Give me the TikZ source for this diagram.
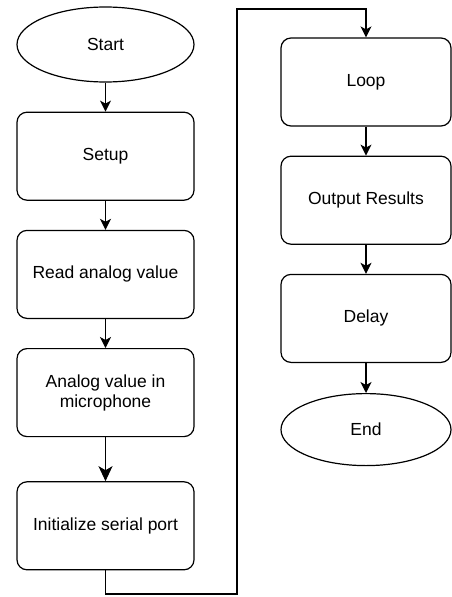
\documentclass[tikz,border=0pt]{standalone}
\usepackage{fontspec}
\setmainfont{Liberation Sans}
\usetikzlibrary{shapes.geometric, arrows.meta, positioning}
\tikzset{
    startstop/.style={
        draw, ellipse, minimum width=177pt, minimum height=75pt, inner sep=0pt, align=center, fill=white, text=black
    },
    process/.style={
        draw, rectangle, rounded corners=10pt, minimum width=177pt, minimum height=88pt, align=center, fill=white, text=black
    },
    arrow/.style={
        line width=1.2pt, -{Stealth[length=11pt, width=11pt, inset=3pt]}
    },
    bigarrow/.style={
        line width=1.2pt, -{Stealth[length=15pt, width=14pt, inset=4pt]}
    },
    every node/.style={font=\fontsize{17.5}{20}\selectfont, line width=1.2pt}
}
\begin{document}
\begin{tikzpicture}[x=1pt, y=1pt, node distance=29pt]
    \useasboundingbox (0,0) rectangle (452,-597);

    % left column
    \node (start) [startstop] at (105.5,-44.5) {Start};
    \node (setup) [process, below=of start] {Setup};
    \node (read) [process, below=of setup] {Read analog value};
    \node (mic) [process, below=of read] {Analog value in\\microphone};
    \node (serial) [process, below=44pt of mic] {Initialize serial port};

    % right column
    \node (loop) [process, minimum width=170pt] at (366,-82) {Loop};
    \node (output) [process, minimum width=170pt, below=of loop] {Output Results};
    \node (delay) [process, minimum width=170pt, below=of output] {Delay};
    \node (stop) [startstop, minimum width=170pt, minimum height=72pt, below=30pt of delay] {End};

    % corners of the connector between the columns
    \coordinate (turnA) at (237,-594);
    \coordinate (turnB) at (237,-9);

    % arrows
    \draw [arrow] (start) -- (setup);
    \draw [arrow] (setup) -- (read);
    \draw [arrow] (read) -- (mic);
    \draw [bigarrow] (mic) -- (serial);
    \draw [arrow] (serial.south) |- (turnA) -- (turnB) -| (loop.north);
    \draw [arrow] (loop) -- (output);
    \draw [arrow] (output) -- (delay);
    \draw [arrow] (delay) -- (stop);

\end{tikzpicture}
\end{document}
